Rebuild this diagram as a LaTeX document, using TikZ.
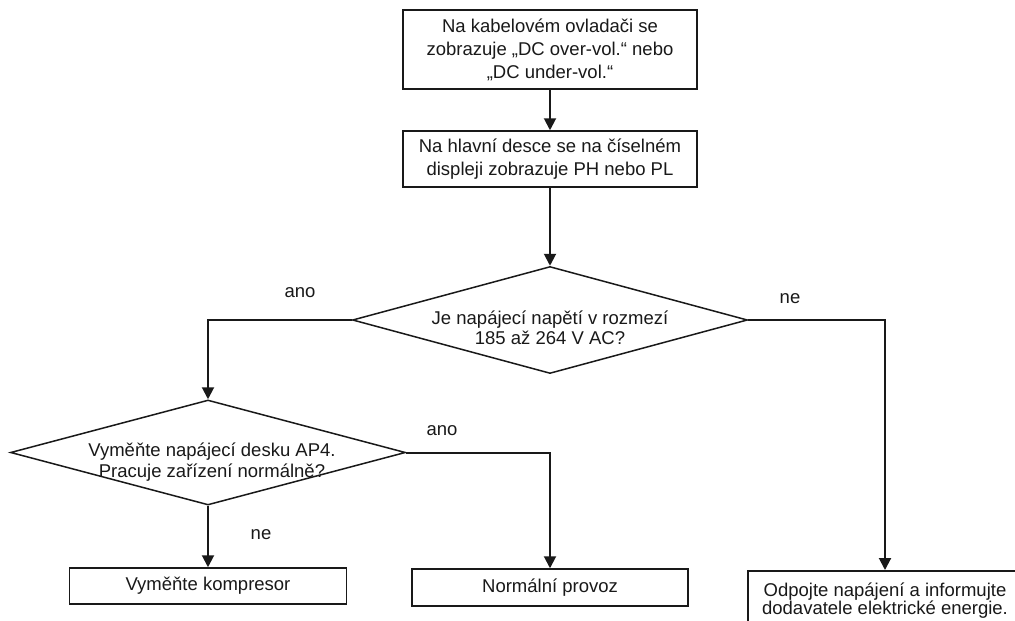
\documentclass[tikz,border=0pt]{standalone}
\usepackage{fontspec}
\setmainfont{Liberation Sans}
\usepackage{tikz}
\usetikzlibrary{shapes.geometric, arrows.meta, positioning}
\definecolor{inkblack}{RGB}{25, 25, 25}
\tikzset{
  >=Triangle,
  flowarrow/.style={-{Triangle[length=12pt, width=12pt]}, line width=2pt, inkblack},
  stepbox/.style={draw=inkblack, line width=1.5pt, rectangle, align=center, inner sep=0pt, text=inkblack, font=\fontsize{18.5}{23}\selectfont},
  decision/.style={draw=inkblack, line width=1.5pt, diamond, inner sep=0pt, aspect=3.7, minimum width=395pt},
  decisiontext/.style={align=center, inner sep=0pt, text=inkblack, font=\fontsize{18.5}{20.5}\selectfont},
  answer/.style={inner sep=0pt, text=inkblack, font=\fontsize{18.5}{20}\selectfont}
}
\begin{document}
\begin{tikzpicture}[x=1pt, y=-1pt]
    \useasboundingbox (0,0) rectangle (1015,621);
    \clip (0,0) rectangle (1015,621);
    \fill[white] (0,0) rectangle (1015,621);
    \node (dcmsg) [stepbox, minimum width=294pt, minimum height=79pt] at (550,49.5) {Na kabelovém ovladači se\\zobrazuje „DC over-vol.“ nebo\\„DC under-vol.“};
    \node (phpl) [stepbox, minimum width=294pt, minimum height=56pt] at (550,159) {Na hlavní desce se na číselném\\displeji zobrazuje PH nebo PL};
    \node (volt) [decision, minimum height=107pt] at (550,320) {};
    \node (volttext) [decisiontext] at ([yshift=-8pt]volt.center) {Je napájecí napětí v rozmezí\\185 až 264 V AC?};
    \node (swap) [decision, minimum height=105pt] at (208,452.5) {};
    \node (swaptext) [decisiontext] at ([xshift=4pt, yshift=-9.5pt]swap.center) {Vyměňte napájecí desku AP4.\\Pracuje zařízení normálně?};
    \node (komp) [stepbox, minimum width=277pt, minimum height=36pt] at (208,586) {Vyměňte kompresor};
    \node (normal) [stepbox, minimum width=276pt, minimum height=37pt] at (550,587.5) {Normální provoz};
    \node (cut) [stepbox, anchor=north, minimum width=274pt, minimum height=60pt, font=\fontsize{18.5}{18.5}\selectfont] at (885,570) {Odpojte napájení a informujte\\dodavatele elektrické energie.};
    \draw[flowarrow] (dcmsg) -- (phpl);
    \draw[flowarrow] (phpl) -- (volt);
    \draw[flowarrow] (volt.west) -| (swap.north);
    \draw[flowarrow] (volt.east) -| (cut.north);
    \draw[flowarrow] (swap.east) -| (normal.north);
    \draw[flowarrow] (swap) -- (komp);
    \node (anoleft) [answer] at (300,293) {ano};
    \node (neright) [answer] at (790,299) {ne};
    \node (anoswap) [answer] at (442,431) {ano};
    \node (neswap) [answer] at (261,535) {ne};
\end{tikzpicture}
\end{document}
